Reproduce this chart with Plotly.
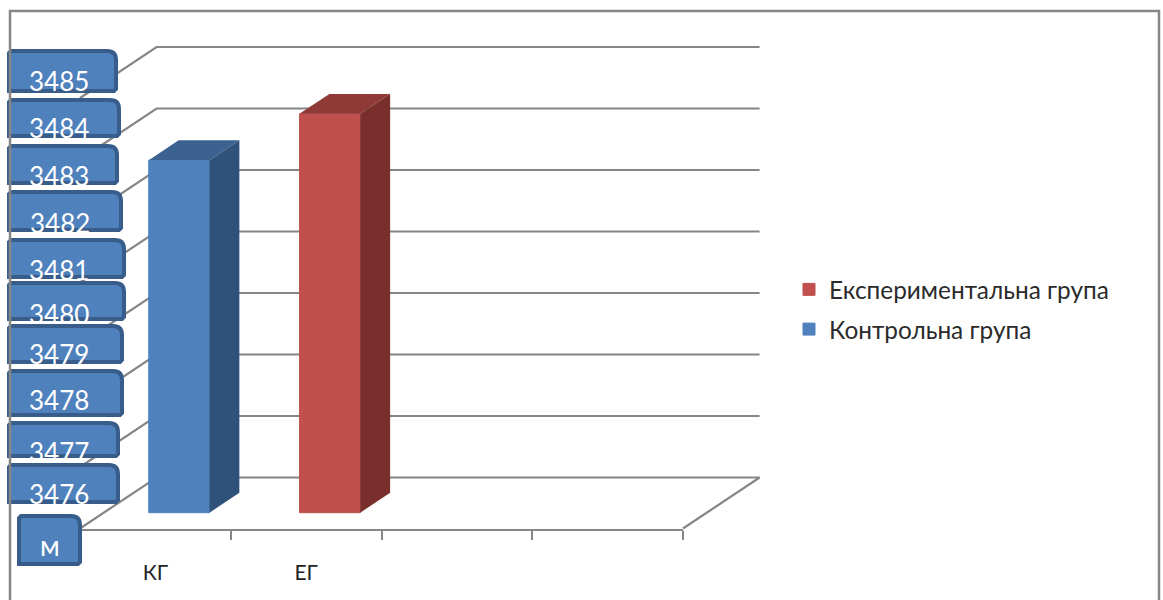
import numpy as np
import plotly.graph_objects as go

# Chart data
categories = ["КГ", "ЕГ"]
series_names = ["Контрольна група", "Експериментальна група"]
series_values = [3483.37, 3484.34]
value_labels = ["3485", "3484", "3483", "3482", "3481", "3480", "3479", "3478", "3477", "3476"]
unit_label = "м"

# Value scale and oblique projection
V_MIN, V_MAX = 3476, 3485
GRID_LINES = 8
N_SLOTS = 4
DEPTH_X = 0.508      # category widths across the full floor depth
DEPTH_Y = 1.066      # value units across the full floor depth
BAR_NEAR, BAR_FAR = 0.31, 0.70
BAR_WIDTH = 0.403

# Page geometry in pixels: the floor's front edge runs from (L, B) to (R, B)
W, H = 1163, 600
L, R, T, B = 80, 683, 98, 528.5
SLOT_PX = (R - L) / N_SLOTS
UNIT_PX = (B - T) / (V_MAX - V_MIN)

GRID = "#868686"
BLUE = ("#4F81BD", "#3B6290", "#30527A")
RED = ("#C0504D", "#8F3A37", "#792F2C")
FONT = "Lato, Carlito, 'Noto Sans', sans-serif"


def px(x):
    return x / W


def py(y):
    return (H - y) / H


def project(x, v, t):
    return x + t * DEPTH_X, v + t * DEPTH_Y


fig = go.Figure()

# Back wall, side wall and floor lines, on axes spanning the whole page
grid_x, grid_y = [], []
for v in np.linspace(V_MIN, V_MAX, GRID_LINES):
    x0, y0 = project(0, v, 0)
    x1, y1 = project(0, v, 1)
    x2, y2 = project(N_SLOTS, v, 1)
    grid_x += [x0, x1, x2, None]
    grid_y += [y0, y1, y2, None]
x0, y0 = project(N_SLOTS, V_MIN, 0)
x1, y1 = project(N_SLOTS, V_MIN, 1)
grid_x += [x0, x1]
grid_y += [y0, y1]
fig.add_trace(go.Scatter(x=grid_x, y=grid_y, mode="lines",
                         line=dict(color=GRID, width=2.2), showlegend=False,
                         hoverinfo="skip"))

# Empty trace that keeps the category axis subplot alive
fig.add_trace(go.Scatter(x=[None], y=[None], xaxis="x2", yaxis="y2", showlegend=False,
                         hoverinfo="skip"))

# Columns: front face as a bar, top and side faces as filled polygons.
# Added last series first so the legend lists it on top.
columns = list(enumerate(zip(series_names, series_values, (BLUE, RED))))
for i, (name, value, colours) in reversed(columns):
    centre = i + 0.5
    xc, base = project(centre, V_MIN, BAR_NEAR)
    fig.add_trace(go.Bar(x=[xc], y=[value - V_MIN], base=[base], width=BAR_WIDTH,
                         name=name, legendgroup=name, xaxis="x3", yaxis="y3",
                         marker=dict(color=colours[0], line=dict(color=colours[0], width=1))))
    left, right = centre - BAR_WIDTH / 2, centre + BAR_WIDTH / 2
    top_face = [project(left, value, BAR_NEAR), project(right, value, BAR_NEAR),
                project(right, value, BAR_FAR), project(left, value, BAR_FAR)]
    side_face = [project(right, V_MIN, BAR_NEAR), project(right, value, BAR_NEAR),
                 project(right, value, BAR_FAR), project(right, V_MIN, BAR_FAR)]
    for face, colour in ((top_face, colours[1]), (side_face, colours[2])):
        fx, fy = zip(*(face + face[:1]))
        fig.add_trace(go.Scatter(x=fx, y=fy, mode="lines", fill="toself", fillcolor=colour,
                                 line=dict(width=0, color=colour),
                                 xaxis="x3", yaxis="y3", showlegend=False, hoverinfo="skip"))

# Rounded callouts holding the value labels: left, top, right, bottom, text centre y, text centre x
label_boxes = [
    (9, 51, 116, 91, 81, 59), (9, 100, 119, 136, 128, 59), (9, 146, 117, 183, 176, 59),
    (9, 192, 121, 230, 223, 60), (9, 240, 124, 277, 270, 59), (9, 283, 124, 319, 314, 59),
    (9, 326, 122, 362, 354, 59), (9, 371, 122, 415, 400, 59), (9, 423, 118, 456, 452, 59),
    (9, 465, 118, 502, 494, 59),
]
unit_box = (19, 516, 80, 564, 545, 50)


def rounded_box(l, t, r, b, rad=9):
    # Rounded top corners, slightly rounded bottom-right corner
    return (f"M {px(l)} {py(b)} L {px(l)} {py(t + 2)} L {px(l + 2)} {py(t)} "
            f"L {px(r - rad)} {py(t)} Q {px(r)} {py(t)} {px(r)} {py(t + rad)} "
            f"L {px(r)} {py(b - 2)} L {px(r - 2)} {py(b)} Z")


shapes = []
annotations = []
for (l, t, r, b, ty, tx), text in zip(label_boxes + [unit_box], value_labels + [unit_label]):
    shapes.append(dict(type="path", path=rounded_box(l, t, r, b), xref="paper", yref="paper",
                       fillcolor=BLUE[0], line=dict(color="#385D8A", width=4), layer="above"))
    annotations.append(dict(text=text, x=px(tx), y=py(ty), xref="paper", yref="paper",
                            showarrow=False, xanchor="center", yanchor="middle",
                            font=dict(family=FONT, color="white",
                                      size=26 if text != unit_label else 28)))

# Chart frame, open along the bottom edge
shapes.append(dict(type="path", xref="paper", yref="paper", layer="above",
                   path=f"M {px(10)} {py(600)} L {px(10)} {py(11)} L {px(1159)} {py(11)} L {px(1159)} {py(600)}",
                   line=dict(color=GRID, width=2.5)))

# Full-page axis ranges sharing the value scale of the category axis subplot
page_x = [-L / SLOT_PX, (W - L) / SLOT_PX]
page_y = [V_MIN - (H - B) / UNIT_PX, V_MIN + B / UNIT_PX]

fig.update_layout(
    width=W, height=H, autosize=False,
    margin=dict(l=0, r=0, t=0, b=0, autoexpand=False),
    paper_bgcolor="white", plot_bgcolor="rgba(0,0,0,0)",
    barmode="overlay", shapes=shapes, annotations=annotations,
    font=dict(family=FONT),
    xaxis=dict(range=page_x, domain=[0, 1], visible=False),
    yaxis=dict(range=page_y, domain=[0, 1], visible=False),
    xaxis2=dict(range=[0, N_SLOTS], domain=[px(L), px(R)], anchor="y2",
                showgrid=False, zeroline=False,
                showline=True, linecolor=GRID, linewidth=2,
                tickmode="array", tickvals=[i + 0.5 for i in range(len(categories))],
                ticktext=categories, ticks="outside", ticklen=24,
                tickcolor="rgba(0,0,0,0)", tickfont=dict(family=FONT, size=21, color="#222"),
                minor=dict(tickmode="array", tickvals=list(range(N_SLOTS + 1)), ticks="outside",
                           ticklen=9, tickcolor=GRID, tickwidth=2, showgrid=False)),
    yaxis2=dict(range=[V_MIN, V_MAX], domain=[py(B), py(T)], anchor="x2", visible=False),
    xaxis3=dict(range=page_x, overlaying="x", visible=False),
    yaxis3=dict(range=page_y, overlaying="y", visible=False),
    legend=dict(x=px(789), y=py(267), xanchor="left", yanchor="top",
                traceorder="grouped", tracegroupgap=5,
                font=dict(family=FONT, size=24.4, color="#2b2b2b"), bgcolor="rgba(0,0,0,0)"),
)

fig.write_html("out.html", config=dict(displayModeBar=False))
